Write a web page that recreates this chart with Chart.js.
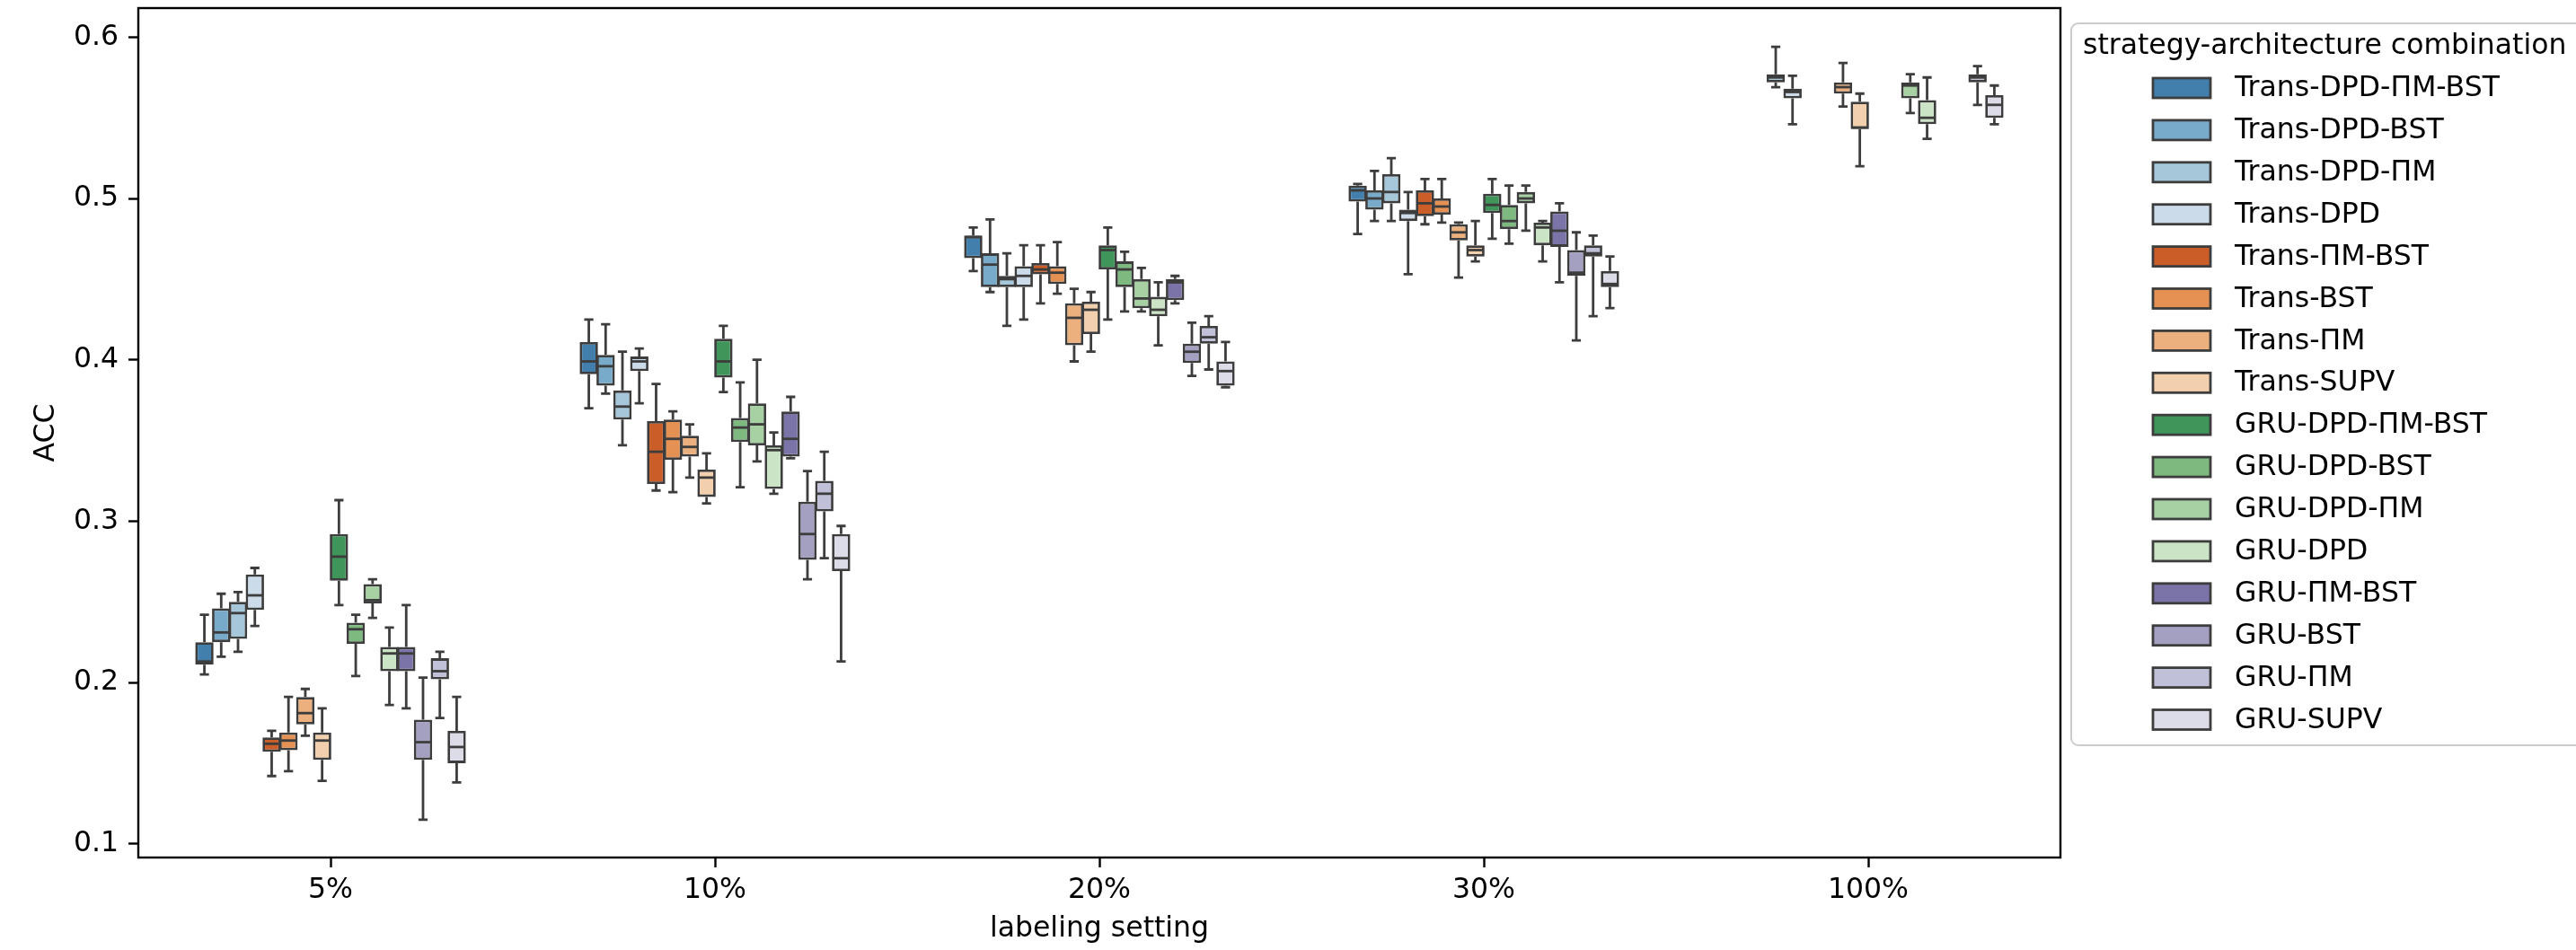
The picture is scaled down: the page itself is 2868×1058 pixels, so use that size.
<!DOCTYPE html>
<html>
<head>
<meta charset="utf-8">
<script src="https://cdn.jsdelivr.net/npm/chart.js@4.4.1/dist/chart.umd.min.js"></script>
<style>
  body { margin: 0; background: #fff; }
  #wrap { width: 2868px; height: 1058px; }
</style>
</head>
<body>
<div id="wrap"><canvas id="acc-box" width="2868" height="1058"></canvas></div>
<script>
(function () {
    "use strict";

    // Categories and legend entries
    var settings = ["5%", "10%", "20%", "30%", "100%"];
    var yTicks = [0.1, 0.2, 0.3, 0.4, 0.5, 0.6];
    var seriesNames = [
        "Trans-DPD-ΠM-BST", "Trans-DPD-BST", "Trans-DPD-ΠM", "Trans-DPD",
        "Trans-ΠM-BST", "Trans-BST", "Trans-ΠM", "Trans-SUPV",
        "GRU-DPD-ΠM-BST", "GRU-DPD-BST", "GRU-DPD-ΠM", "GRU-DPD",
        "GRU-ΠM-BST", "GRU-BST", "GRU-ΠM", "GRU-SUPV"
    ];

    // Box stats per setting: [whisker low, q1, median, q3, whisker high]
    var transDpdPmBst = [[0.205, 0.211, 0.213, 0.225, 0.242], [0.370, 0.391, 0.399, 0.411, 0.425], [0.455, 0.463, 0.476, 0.477, 0.482], [0.478, 0.498, 0.505, 0.508, 0.509], null];
    var transDpdBst = [[0.216, 0.225, 0.231, 0.246, 0.255], [0.379, 0.384, 0.396, 0.403, 0.422], [0.442, 0.445, 0.459, 0.466, 0.487], [0.486, 0.493, 0.500, 0.505, 0.517], null];
    var transDpdPm = [[0.219, 0.227, 0.243, 0.250, 0.256], [0.347, 0.363, 0.371, 0.381, 0.405], [0.421, 0.445, 0.450, 0.452, 0.466], [0.486, 0.497, 0.504, 0.515, 0.525], [0.569, 0.572, 0.575, 0.577, 0.594]];
    var transDpd = [[0.235, 0.245, 0.254, 0.267, 0.271], [0.373, 0.393, 0.399, 0.402, 0.407], [0.425, 0.445, 0.452, 0.458, 0.471], [0.453, 0.486, 0.491, 0.493, 0.504], [0.546, 0.562, 0.566, 0.568, 0.576]];
    var transPmBst = [[0.142, 0.157, 0.162, 0.166, 0.170], [0.319, 0.323, 0.343, 0.362, 0.385], [0.435, 0.453, 0.456, 0.460, 0.471], [0.484, 0.489, 0.497, 0.505, 0.512], null];
    var transBst = [[0.145, 0.158, 0.164, 0.169, 0.191], [0.318, 0.338, 0.351, 0.363, 0.368], [0.441, 0.447, 0.454, 0.458, 0.473], [0.485, 0.490, 0.495, 0.500, 0.512], null];
    var transPm = [[0.167, 0.174, 0.181, 0.191, 0.196], [0.327, 0.340, 0.346, 0.353, 0.360], [0.399, 0.409, 0.426, 0.435, 0.444], [0.451, 0.474, 0.479, 0.484, 0.485], [0.557, 0.565, 0.569, 0.572, 0.584]];
    var transSupv = [[0.139, 0.152, 0.164, 0.169, 0.184], [0.311, 0.315, 0.327, 0.332, 0.342], [0.405, 0.416, 0.431, 0.436, 0.442], [0.461, 0.464, 0.468, 0.471, 0.486], [0.520, 0.543, 0.544, 0.560, 0.565]];
    var gruDpdPmBst = [[0.248, 0.263, 0.278, 0.292, 0.313], [0.380, 0.389, 0.399, 0.413, 0.421], [0.425, 0.456, 0.468, 0.471, 0.482], [0.475, 0.491, 0.496, 0.503, 0.512], null];
    var gruDpdBst = [[0.204, 0.224, 0.233, 0.237, 0.242], [0.321, 0.349, 0.358, 0.364, 0.386], [0.430, 0.445, 0.456, 0.461, 0.467], [0.472, 0.481, 0.486, 0.496, 0.508], null];
    var gruDpdPm = [[0.240, 0.249, 0.251, 0.261, 0.264], [0.337, 0.347, 0.360, 0.373, 0.400], [0.430, 0.432, 0.438, 0.450, 0.457], [0.480, 0.497, 0.500, 0.504, 0.508], [0.553, 0.562, 0.570, 0.572, 0.577]];
    var gruDpd = [[0.186, 0.207, 0.218, 0.222, 0.234], [0.317, 0.320, 0.344, 0.347, 0.355], [0.409, 0.427, 0.431, 0.439, 0.448], [0.461, 0.471, 0.482, 0.485, 0.486], [0.537, 0.546, 0.550, 0.561, 0.575]];
    var gruPmBst = [[0.184, 0.207, 0.218, 0.222, 0.248], [0.339, 0.340, 0.351, 0.368, 0.377], [0.435, 0.437, 0.448, 0.450, 0.452], [0.448, 0.470, 0.480, 0.492, 0.497], null];
    var gruBst = [[0.115, 0.152, 0.163, 0.177, 0.203], [0.264, 0.276, 0.292, 0.312, 0.331], [0.390, 0.398, 0.405, 0.410, 0.423], [0.412, 0.452, 0.454, 0.468, 0.479], null];
    var gruPm = [[0.178, 0.202, 0.207, 0.215, 0.219], [0.277, 0.306, 0.317, 0.325, 0.343], [0.394, 0.410, 0.414, 0.421, 0.427], [0.427, 0.464, 0.466, 0.471, 0.477], [0.558, 0.572, 0.575, 0.577, 0.582]];
    var gruSupv = [[0.138, 0.150, 0.160, 0.170, 0.191], [0.213, 0.269, 0.277, 0.292, 0.297], [0.383, 0.384, 0.393, 0.399, 0.411], [0.432, 0.445, 0.447, 0.455, 0.464], [0.546, 0.550, 0.558, 0.564, 0.570]];

    var seriesStats = [
        transDpdPmBst, transDpdBst, transDpdPm, transDpd,
        transPmBst, transBst, transPm, transSupv,
        gruDpdPmBst, gruDpdBst, gruDpdPm, gruDpd,
        gruPmBst, gruBst, gruPm, gruSupv
    ];

    // tab20c, desaturated like seaborn boxes
    var basePalette = [
        "#3182bd", "#6baed6", "#9ecae1", "#c6dbef",
        "#e6550d", "#fd8d3c", "#fdae6b", "#fdd0a2",
        "#31a354", "#74c476", "#a1d99b", "#c7e9c0",
        "#756bb1", "#9e9ac8", "#bcbddc", "#dadaeb"
    ];
    var lineGray = "#3d3d3d";

    function desaturate(hex, prop) {
        var r = parseInt(hex.slice(1, 3), 16) / 255;
        var g = parseInt(hex.slice(3, 5), 16) / 255;
        var b = parseInt(hex.slice(5, 7), 16) / 255;
        var max = Math.max(r, g, b), min = Math.min(r, g, b);
        var l = (max + min) / 2, d = max - min, h = 0, s = 0;
        if (d > 0) {
            s = l > 0.5 ? d / (2 - max - min) : d / (max + min);
            if (max === r) h = (g - b) / d + (g < b ? 6 : 0);
            else if (max === g) h = (b - r) / d + 2;
            else h = (r - g) / d + 4;
            h /= 6;
        }
        s *= prop;
        var q = l < 0.5 ? l * (1 + s) : l + s - l * s;
        var p = 2 * l - q;
        function hue(t) {
            if (t < 0) t += 1;
            if (t > 1) t -= 1;
            if (t < 1 / 6) return p + (q - p) * 6 * t;
            if (t < 1 / 2) return q;
            if (t < 2 / 3) return p + (q - p) * (2 / 3 - t) * 6;
            return p;
        }
        var out = [hue(h + 1 / 3), hue(h), hue(h - 1 / 3)].map(function (v) { return Math.round(v * 255); });
        return "rgb(" + out.join(",") + ")";
    }
    var boxColors = basePalette.map(function (c) { return desaturate(c, 0.75); });

    Chart.defaults.font.family = "'DejaVu Sans', sans-serif";
    Chart.defaults.font.size = 31.5;
    Chart.defaults.color = "#000";

    // Whiskers under the boxes, medians over them
    var boxParts = {
        id: "boxParts",
        beforeDatasetsDraw: function (chart) {
            var ctx = chart.ctx, y = chart.scales.y;
            ctx.save();
            ctx.strokeStyle = lineGray;
            ctx.lineWidth = 2.8;
            seriesStats.forEach(function (stats, d) {
                chart.getDatasetMeta(d).data.forEach(function (bar, i) {
                    var s = stats[i];
                    if (!s) return;
                    var cap = bar.width * 0.25;
                    ctx.beginPath();
                    ctx.moveTo(bar.x, y.getPixelForValue(s[3]));
                    ctx.lineTo(bar.x, y.getPixelForValue(s[4]));
                    ctx.moveTo(bar.x, y.getPixelForValue(s[1]));
                    ctx.lineTo(bar.x, y.getPixelForValue(s[0]));
                    ctx.moveTo(bar.x - cap, y.getPixelForValue(s[4]));
                    ctx.lineTo(bar.x + cap, y.getPixelForValue(s[4]));
                    ctx.moveTo(bar.x - cap, y.getPixelForValue(s[0]));
                    ctx.lineTo(bar.x + cap, y.getPixelForValue(s[0]));
                    ctx.stroke();
                });
            });
            ctx.restore();
        },
        afterDatasetsDraw: function (chart) {
            var ctx = chart.ctx, y = chart.scales.y, area = chart.chartArea;
            ctx.save();
            ctx.strokeStyle = lineGray;
            ctx.lineWidth = 2.8;
            seriesStats.forEach(function (stats, d) {
                chart.getDatasetMeta(d).data.forEach(function (bar, i) {
                    var s = stats[i];
                    if (!s) return;
                    var py = y.getPixelForValue(s[2]);
                    ctx.beginPath();
                    ctx.moveTo(bar.x - bar.width / 2 + 1, py);
                    ctx.lineTo(bar.x + bar.width / 2 - 1, py);
                    ctx.stroke();
                });
            });
            // axes frame
            ctx.strokeStyle = "#000";
            ctx.lineWidth = 2.4;
            ctx.strokeRect(area.left, area.top, area.right - area.left, area.bottom - area.top);
            ctx.restore();
        }
    };

    // Legend box at the right, like the matplotlib one
    var sideLegend = {
        id: "sideLegend",
        afterDraw: function (chart) {
            var ctx = chart.ctx, area = chart.chartArea;
            var left = area.right + 12, top = area.top + 17;
            ctx.save();
            ctx.fillStyle = "rgba(255,255,255,0.8)";
            ctx.strokeStyle = "#cccccc";
            ctx.lineWidth = 2;
            ctx.beginPath();
            ctx.roundRect(left, top, chart.width - left + 20, 804, 8);
            ctx.fill();
            ctx.stroke();

            ctx.fillStyle = "#000";
            ctx.font = "31.5px 'DejaVu Sans'";
            ctx.textBaseline = "middle";
            ctx.textAlign = "left";
            ctx.fillText("strategy-architecture combination", left + 13, top + 26);

            seriesNames.forEach(function (name, i) {
                var cy = top + 72 + i * 46.9;
                ctx.fillStyle = boxColors[i];
                ctx.fillRect(left + 91, cy - 11, 64, 22);
                ctx.strokeStyle = lineGray;
                ctx.lineWidth = 2.8;
                ctx.strokeRect(left + 91, cy - 11, 64, 22);
                ctx.fillStyle = "#000";
                ctx.fillText(name, left + 182, cy + 1);
            });
            ctx.restore();
        }
    };

    var datasets = seriesStats.map(function (stats, d) {
        return {
            label: seriesNames[d],
            data: stats.map(function (s) { return s ? [s[1], s[3]] : null; }),
            backgroundColor: boxColors[d],
            borderColor: lineGray,
            borderWidth: 2.8,
            borderSkipped: false,
            categoryPercentage: 0.7,
            barPercentage: 1.09
        };
    });

    var ctx1 = document.getElementById("acc-box").getContext("2d");
    var accChart = new Chart(ctx1, {
        type: "bar",
        data: {
            labels: settings,
            datasets: datasets
        },
        options: {
            responsive: false,
            animation: false,
            events: [],
            layout: {
                padding: { left: 0, right: 574, top: 9, bottom: 0 }
            },
            plugins: {
                legend: { display: false },
                tooltip: { enabled: false }
            },
            scales: {
                x: {
                    type: "category",
                    offset: true,
                    border: { display: false },
                    grid: {
                        offset: false,
                        drawOnChartArea: false,
                        drawTicks: true,
                        tickLength: 11,
                        tickWidth: 2.4,
                        tickColor: "#000"
                    },
                    ticks: { padding: 7 },
                    title: {
                        display: true,
                        text: "labeling setting",
                        padding: { top: 0, bottom: 4 }
                    },
                    afterFit: function (scale) {
                        scale.height = 103;
                        scale.paddingLeft = 0;
                        scale.paddingRight = 0;
                    }
                },
                y: {
                    type: "linear",
                    min: 0.0915,
                    max: 0.618,
                    border: { display: false },
                    grid: {
                        drawOnChartArea: false,
                        drawTicks: true,
                        tickLength: 11,
                        tickWidth: 2.4,
                        tickColor: "#000"
                    },
                    afterBuildTicks: function (scale) {
                        scale.ticks = yTicks.map(function (v) { return { value: v }; });
                    },
                    ticks: {
                        padding: 11,
                        callback: function (v) { return Number(v).toFixed(1); }
                    },
                    title: {
                        display: true,
                        text: "ACC",
                        padding: { top: 33, bottom: 0 }
                    },
                    afterFit: function (scale) {
                        scale.width = 154;
                        scale.paddingTop = 0;
                        scale.paddingBottom = 0;
                    }
                }
            }
        },
        plugins: [boxParts, sideLegend]
    });
})();
</script>
</body>
</html>
